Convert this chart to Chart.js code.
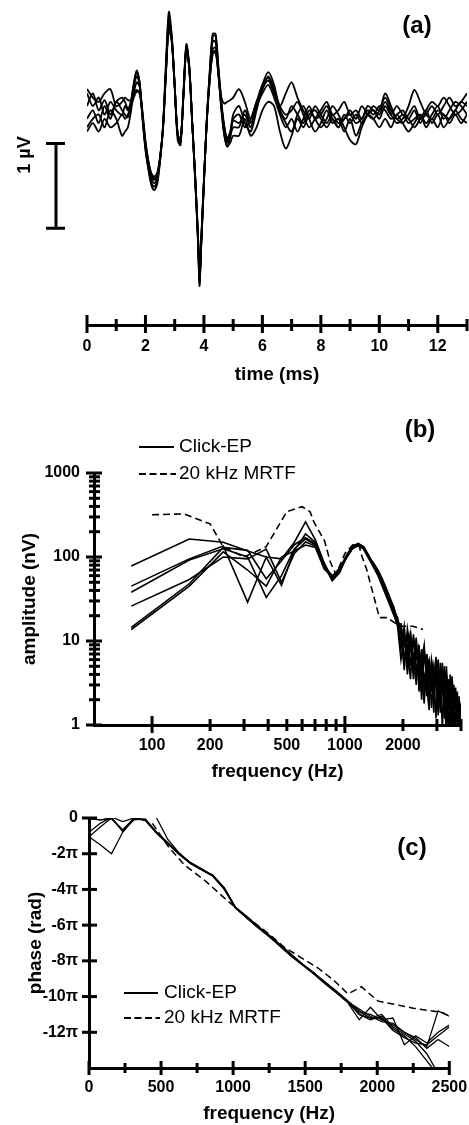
<!DOCTYPE html>
<html><head><meta charset="utf-8">
<script src="https://cdn.jsdelivr.net/npm/chart.js@4.4.0/dist/chart.umd.min.js"></script>
<style>
html,body{margin:0;padding:0;background:#fff;}
body{width:469px;height:1125px;position:relative;overflow:hidden;}
canvas{position:absolute;left:0;}
</style></head><body>
<canvas id="ca" width="469" height="400" style="top:0px"></canvas>
<canvas id="cb" width="469" height="390" style="top:400px"></canvas>
<canvas id="cc" width="469" height="335" style="top:790px"></canvas>
<script>
// ---------- Panel (a): click-evoked potentials, time (ms) vs µV ----------
const timeMs = [0,0.2,0.4,0.6,0.8,1.0,1.2,1.3,1.4,1.5,1.6,1.7,1.8,1.9,2.0,2.1,2.2,2.3,2.4,2.5,2.6,2.7,2.8,2.9,3.0,3.1,3.2,3.3,3.4,3.5,3.6,3.7,3.8,3.85,3.9,4.0,4.1,4.2,4.3,4.4,4.5,4.6,4.7,4.8,4.9,5.0,5.2,5.4,5.6,5.8,6.0,6.2,6.4,6.6,6.8,7.0,7.2,7.4,7.6,7.8,8.0,8.2,8.4,8.6,8.8,9.0,9.2,9.4,9.6,9.8,10.0,10.2,10.4,10.6,10.8,11.0,11.2,11.4,11.6,11.8,12.0,12.2,12.4,12.6,12.8,13.0];
const epTrace1 = [0.2,0.05,0.15,-0.05,0.1,0.0,-0.05, 0.05,0.0,0.1,0.32,0.47,0.33,-0.1,-0.47,-0.7,-0.88,-0.94,-0.87,-0.6,-0.18,0.55,1.16,0.88,0.3,-0.35,-0.41,0.22,0.78,0.52,-0.15,-0.82,-1.58,-2.07,-1.66,-0.86,-0.1,0.47,0.9,0.9,0.45,0.0,-0.3,-0.43,-0.32,-0.12, -0.15,-0.05,-0.2,0.05,0.3,0.45,0.3,0.0,-0.1,0.05,-0.05,-0.15,0.0,-0.1,-0.2,-0.1,0.05,-0.05,-0.2,-0.35,-0.4,-0.2,-0.05,0.05,0.0,0.2,0.05,-0.1,-0.05,-0.15,-0.1,-0.05,-0.15,-0.05,0.05,-0.1,0.0,0.1,0.05,-0.05];
const epTrace2 = [0.05,0.2,0.0,0.12,-0.05,0.1,0.15, 0.1,0.02,0.1,0.3,0.45,0.33,-0.08,-0.45,-0.68,-0.85,-0.9,-0.84,-0.58,-0.2,0.5,1.1,0.86,0.3,-0.3,-0.38,0.2,0.76,0.5,-0.15,-0.8,-1.55,-2.03,-1.64,-0.85,-0.1,0.45,0.87,0.88,0.5,0.1,-0.2,-0.38,-0.28,-0.05, 0.05,-0.15,-0.25,0.0,0.25,0.35,0.2,0.05,0.2,0.33,0.15,0.0,-0.1,0.05,-0.05,-0.15,-0.05,-0.15,-0.1,0.0,-0.1,0.05,-0.05,-0.1,0.0,0.15,0.0,-0.1,-0.15,-0.05,0.05,-0.1,-0.05,0.05,-0.05,0.05,0.15,0.05,0.1,0.2];
const epTrace3 = [-0.1,0.0,-0.15,0.05,-0.1,0.1,0.0, -0.05,-0.08,0.05,0.27,0.4,0.3,-0.1,-0.42,-0.65,-0.8,-0.86,-0.8,-0.58,-0.22,0.45,1.05,0.84,0.28,-0.28,-0.36,0.18,0.74,0.5,-0.15,-0.78,-1.52,-2.0,-1.62,-0.84,-0.1,0.43,0.82,0.8,0.45,0.15,0.08,0.1,0.12,0.15, 0.25,0.1,-0.1,0.1,0.3,0.38,0.25,0.05,-0.05,0.0,0.1,-0.05,-0.2,-0.1,0.0,0.1,-0.05,0.0,0.1,-0.05,0.0,-0.1,0.05,0.0,-0.05,0.1,-0.05,-0.15,-0.1,0.05,0.24,0.1,-0.05,-0.1,0.0,-0.05,-0.1,0.0,0.1,0.05];
const epTrace4 = [-0.2,-0.1,-0.05,-0.2,0.0,-0.1,-0.3, -0.25,-0.2,-0.02,0.2,0.33,0.28,-0.05,-0.4,-0.62,-0.78,-0.82,-0.78,-0.55,-0.2,0.45,1.0,0.82,0.28,-0.28,-0.35,0.18,0.73,0.48,-0.15,-0.78,-1.5,-1.98,-1.6,-0.82,-0.12,0.38,0.72,0.74,0.4,0.0,-0.3,-0.42,-0.38,-0.3, -0.3,-0.1,-0.3,-0.2,0.0,0.1,0.05,-0.25,-0.45,-0.3,-0.1,-0.2,-0.05,0.0,-0.1,-0.2,-0.1,-0.2,-0.05,-0.15,-0.05,-0.15,-0.05,-0.1,-0.2,-0.1,-0.2,-0.05,-0.15,-0.25,-0.15,-0.05,-0.2,-0.1,-0.2,-0.05,-0.15,-0.05,-0.15,-0.05];
const epTrace5 = [0.25,0.15,0.1,0.2,0.25,0.05,0.1, 0.15,0.12,0.12,0.2,0.24,0.2,-0.05,-0.38,-0.6,-0.74,-0.78,-0.74,-0.55,-0.22,0.42,0.95,0.8,0.27,-0.27,-0.35,0.17,0.72,0.48,-0.15,-0.77,-1.5,-1.95,-1.58,-0.82,-0.12,0.36,0.66,0.68,0.4,0.05,-0.22,-0.35,-0.3,-0.2, -0.2,0.0,-0.15,0.05,0.2,0.3,0.15,-0.05,-0.2,-0.1,-0.25,-0.1,0.05,-0.1,-0.05,0.05,-0.1,-0.2,-0.1,-0.05,-0.15,-0.1,0.0,-0.05,0.05,0.0,-0.1,-0.05,0.0,-0.1,0.0,-0.15,0.0,0.1,0.05,0.15,0.05,-0.05,0.0,0.1];
const epTrace6 = [-0.25,-0.15,-0.25,-0.1,-0.2,-0.15,-0.05, -0.1,-0.05,0.05,0.15,0.22,0.2,-0.02,-0.36,-0.6,-0.76,-0.8,-0.76,-0.56,-0.2,0.45,1.0,0.83,0.28,-0.28,-0.36,0.18,0.74,0.5,-0.15,-0.79,-1.53,-2.0,-1.62,-0.84,-0.12,0.36,0.68,0.7,0.42,0.05,-0.2,-0.33,-0.25,-0.1, -0.05,-0.2,-0.1,0.1,0.25,0.4,0.25,0.0,-0.15,-0.25,-0.05,0.05,-0.1,-0.25,-0.15,0.0,-0.15,-0.1,-0.25,-0.1,-0.3,-0.15,-0.05,0.0,-0.1,0.05,-0.05,0.05,-0.05,-0.1,-0.2,-0.1,0.0,-0.15,-0.05,-0.2,-0.1,0.0,-0.1,-0.15];
const timeTickLabels = [0,2,4,6,8,10,12];
const timeMinorTicks = [1,3,5,7,9,11,13];
const scaleBarMicroV = [-0.39, -1.39]; // 1 µV scale bar

// ---------- Panel (b): amplitude spectra ----------
const freqB = [78,156,234,313,391,469,547,625,703,781,859,938,1016,1094,1172,1250,1328,1406,1484,1563,1641,1719,1797,1875,1953,2031,2109,2188,2266,2344,2422,2500,2578,2656,2734,2813,2891,2969,3047,3125,3203,3281,3359,3438,3516,3594,3672,3750,3828,3906,3984];
const ampTrace1 = [78,164,150,118,100,95,150,262,160,85, 55,68,100,132,143,130,102,82,66,50,38,30,24,18, 14,6,12,5,11,4,9,3,7,5,6,2.5,5,3,6,2,4,1.5,5,2,3.5,1.2,3,1.5,2.5,1,1.8];
const ampTrace2 = [45,95,135,29,100,46,120,188,150,80, 52,65,98,128,140,128,100,85,70,55,42,32,25,17, 8,15,5,13,4.5,10,3.5,8,2.5,7,2,5.5,3.5,6.5,1.8,4.5,2.5,5,1.2,3.5,2,3.8,1.5,2.8,1.2,2.2,1.3];
const ampTrace3 = [38,92,125,100,33,60,125,164,140,75, 57,72,104,135,145,133,105,80,62,46,35,28,22,16, 16,9,7,12,3.5,9,6,2,7.5,4,5,1.6,4,4.5,1.3,5.5,3,1.2,4,2.5,0.8,3.5,2,1,2,1.5,0.9];
const ampTrace4 = [26,54,100,95,124,50,110,151,135,78, 60,70,96,125,138,126,98,78,64,52,40,31,23,19, 12,4.5,14,8,5,11,2.5,6,9,3,1.5,6,4,1.2,5,3.5,0.9,4.5,3,1.5,3,0.9,2.5,2,1.2,1.8,1.1];
const ampTrace5 = [14.5,48,130,120,55,90,140,170,145,82, 54,66,102,130,142,132,104,84,68,48,36,27,21,15, 6,11,9,3.5,12,6,7,4,1.8,7,3.5,4.5,1.4,5.5,3,2.5,5.5,2,0.8,3.5,1.5,2.5,0.9,2.2,1.6,0.8,1.5];
const ampTrace6 = [13.7,45,115,70,45,100,118,139,130,72, 58,74,100,127,136,124,96,76,60,45,34,26,20,16, 10,13,4,9,7,3,8,5,4,2.2,6,3.5,2.5,5,3.5,1.4,4,3,2,0.9,4,1.8,1.2,2.5,0.9,1.4,1.2];
const mrtfFreqB = [100,146,200,234,300,390,500,600,660,690,785,840,900,1000,1100,1180,1224,1295,1510,1650,1930,2250,2540];
const mrtfAmpB  = [318,326,248,132,100,132,346,397,346,262,155,87,62,110,140,140,103,72,19,19,15,15,13.7];
const freqTickLabelsB = [100,200,500,1000,2000];
const ampTickLabels = [1,10,100,1000];

// ---------- Panel (c): phase spectra (in units of π rad) ----------
const freqC = [0,78,156,234,313,391,469,547,625,703,781,859,938,1016,1094,1172,1250,1328,1406,1484,1563,1641,1719,1797,1875,1953,2031,2109,2188,2266,2344,2422,2500];
const phaseTrace1 = [0,-0.1,0,-0.75,0,-0.1,-0.8,-1.4,-2.0,-2.5,-2.85,-3.2,-3.95,-5.05,-5.55,-6.1,-6.6,-7.15,-7.7,-8.2,-8.7,-9.25,-9.75,-10.3,-10.9,-11.0,-11.3,-11.6,-12.0,-12.4,-12.8,-10.8,-11.1];
const phaseTrace2 = [-1.05,-1.5,-2.0,-0.8,-0.05,-0.1,-0.85,-1.45,-2.05,-2.55,-2.9,-3.25,-4.0,-5.0,-5.6,-6.15,-6.65,-7.2,-7.75,-8.25,-8.75,-9.3,-9.8,-10.35,-11.3,-10.6,-11.3,-11.2,-12.7,-12.2,-12.6,-12.0,-11.6];
const phaseTrace3 = [-1.05,-0.5,0.0,-0.7,-0.1,-0.05,-0.8,-1.4,-2.0,-2.5,-2.9,-3.2,-3.9,-5.0,-5.5,-6.05,-6.55,-7.1,-7.65,-8.2,-8.7,-9.2,-9.7,-10.25,-10.8,-11.2,-11.0,-11.7,-12.1,-12.5,-13.2,-14.3,-15];
const phaseTrace4 = [-0.05,-0.1,-0.05,-0.65,0,-0.15,-0.85,-1.45,-2.0,-2.55,-2.9,-3.25,-3.95,-5.05,-5.6,-6.1,-6.6,-7.2,-7.75,-8.25,-8.75,-9.3,-9.8,-10.3,-11.0,-11.3,-11.1,-11.8,-12.2,-12.8,-13.6,-14.4,-15];
const phaseTrace5 = [-0.8,-0.3,0.05,-0.2,0.0,-0.1,-0.8,-1.4,-2.0,-2.5,-2.85,-3.25,-3.9,-5.0,-5.55,-6.1,-6.6,-7.15,-7.7,-8.2,-8.7,-9.25,-9.75,-10.3,-10.7,-11.1,-11.4,-11.5,-12.0,-12.3,-12.9,-12.4,-12.8];
const phaseTrace6 = [null,null,null,null,null,null,0,-1.2,-1.95,-2.5,-2.9,-3.25,-3.95,-5.0,-5.55,-6.1,-6.6,-7.15,-7.7,-8.2,-8.7,-9.25,-9.75,-10.3,-11.0,-11.2,-11.2,-11.9,-12.3,-12.6,-12.7,-12.2,-11.7];
const mrtfFreqC  = [440,550,665,804,942,1081,1250,1358,1589,1700,1797,1890,2005,2250,2455,2502];
const mrtfPhaseC = [-0.3,-1.6,-2.65,-3.5,-4.5,-5.45,-6.5,-7.25,-8.4,-9.1,-9.85,-9.45,-10.25,-10.65,-10.9,-11.1];
const freqTickLabelsC = [0,500,1000,1500,2000,2500];
const freqMinorTicksC = [250,750,1250,1750,2250];
const phaseTickLabels = [0,-2,-4,-6,-8,-10,-12];

// ---------- common ----------
const FONT = "'Liberation Sans', Arial, Helvetica, sans-serif";
Chart.defaults.font.family = FONT;
Chart.defaults.color = '#000';
const BLACK = '#000';

function xy(xs, ys){ return xs.map((x,i)=>({x:x, y:ys[i]})); }
function lineDs(xs, ys, opts){ return Object.assign({data: xy(xs, ys), borderColor: BLACK, borderWidth: 1.5, pointRadius: 0, fill: false, tension: 0, spanGaps: false}, opts||{}); }
function setTicks(list){ return s => { s.ticks = list.map(v=>({value:v})); }; }
function fixW(w){ return s => { s.width = w; s.paddingLeft=0; s.paddingRight=0; s.paddingTop=0; s.paddingBottom=0; }; }
function fixH(h){ return s => { s.height = h; s.paddingLeft=0; s.paddingRight=0; s.paddingTop=0; s.paddingBottom=0; }; }
function ticksX(chart, list, up, down){
  const ctx = chart.ctx, s = chart.scales.x, y = chart.chartArea.bottom;
  ctx.save(); ctx.strokeStyle = BLACK; ctx.lineWidth = 3;
  list.forEach(v => { const x = s.getPixelForValue(v); ctx.beginPath(); ctx.moveTo(x, y-up); ctx.lineTo(x, y+down); ctx.stroke(); });
  ctx.restore();
}
function ticksY(chart, list, left, right){
  const ctx = chart.ctx, s = chart.scales.y, x = chart.chartArea.left;
  ctx.save(); ctx.strokeStyle = BLACK; ctx.lineWidth = 3;
  list.forEach(v => { const y = s.getPixelForValue(v); ctx.beginPath(); ctx.moveTo(x-left, y); ctx.lineTo(x+right, y); ctx.stroke(); });
  ctx.restore();
}
function text(ctx, str, x, y, size, weight, align){
  ctx.save(); ctx.fillStyle = BLACK; ctx.font = (weight||'normal') + ' ' + size + 'px ' + FONT;
  ctx.textAlign = align || 'left'; ctx.textBaseline = 'middle'; ctx.fillText(str, x, y); ctx.restore();
}
function legend(ctx, x0, x1, y1, y2, tx){
  ctx.save(); ctx.strokeStyle = BLACK; ctx.lineWidth = 2;
  ctx.beginPath(); ctx.moveTo(x0, y1); ctx.lineTo(x1, y1); ctx.stroke();
  ctx.setLineDash([7,3.5]); ctx.beginPath(); ctx.moveTo(x0, y2); ctx.lineTo(x1+2, y2); ctx.stroke();
  ctx.restore();
  text(ctx, 'Click-EP', tx, y1, 19, 'normal');
  text(ctx, '20 kHz MRTF', tx, y2, 19, 'normal');
}
const tickFont = {size: 16, weight: 'bold'};
const titleFont = {size: 19, weight: 'bold'};
const baseOpts = {responsive: false, animation: false, devicePixelRatio: 1, events: [],
  plugins: {legend: {display: false}, tooltip: {enabled: false}}};

// ---------- chart (a) ----------
new Chart(document.getElementById('ca'), {
  type: 'line',
  data: {datasets: [epTrace1, epTrace2, epTrace3, epTrace4, epTrace5, epTrace6].map(t => lineDs(timeMs, t, {borderWidth: 1.8, tension: 0.3}))},
  options: Object.assign({}, baseOpts, {
    layout: {padding: {left: 87, right: 2, top: 0, bottom: 0}},
    scales: {
      x: {type: 'linear', min: 0, max: 13, afterBuildTicks: setTicks(timeTickLabels), afterFit: fixH(75),
          grid: {display: false, drawTicks: false}, border: {display: true, width: 3, color: BLACK},
          ticks: {padding: 12, font: tickFont, color: BLACK, maxRotation: 0, autoSkip: false},
          title: {display: true, text: 'time (ms)', font: titleFont, color: BLACK, padding: {top: 0, bottom: 14}}},
      y: {display: false, min: -2.53, max: 1.3}
    }
  }),
  plugins: [{id: 'decoA', afterDraw(chart){
    const ctx = chart.ctx;
    ticksX(chart, timeTickLabels, 10, 8);
    ticksX(chart, timeMinorTicks, 6, 6);
    const ys = chart.scales.y, bx = chart.chartArea.left - 31;
    const y1 = ys.getPixelForValue(scaleBarMicroV[0]), y2 = ys.getPixelForValue(scaleBarMicroV[1]);
    ctx.save(); ctx.strokeStyle = BLACK; ctx.lineWidth = 3;
    ctx.beginPath(); ctx.moveTo(bx, y1); ctx.lineTo(bx, y2);
    ctx.moveTo(bx-10, y1); ctx.lineTo(bx+9, y1); ctx.moveTo(bx-10, y2); ctx.lineTo(bx+9, y2); ctx.stroke();
    ctx.translate(25, 155); ctx.rotate(-Math.PI/2);
    text(ctx, '1 µV', 0, 0, 18, 'bold', 'center');
    ctx.restore();
    text(ctx, '(a)', 417, 26, 24, 'bold', 'center');
  }}]
});

// ---------- chart (b) ----------
new Chart(document.getElementById('cb'), {
  type: 'line',
  data: {datasets: [ampTrace1, ampTrace2, ampTrace3, ampTrace4, ampTrace5, ampTrace6].map(t => lineDs(freqB, t, {borderWidth: 1.6}))
      .concat([lineDs(mrtfFreqB, mrtfAmpB, {borderWidth: 1.6, borderDash: [7,4]})])},
  options: Object.assign({}, baseOpts, {
    layout: {padding: {left: 0, right: 8, top: 73, bottom: 0}},
    scales: {
      x: {type: 'logarithmic', min: 50, max: 4000, afterBuildTicks: setTicks(freqTickLabelsB), afterFit: fixH(65),
          grid: {display: false, drawTicks: false}, border: {display: true, width: 3, color: BLACK},
          ticks: {padding: 11, font: tickFont, color: BLACK, maxRotation: 0, autoSkip: false, callback: v => String(v)},
          title: {display: true, text: 'frequency (Hz)', font: titleFont, color: BLACK, padding: {top: 0, bottom: 7}}},
      y: {type: 'logarithmic', min: 1, max: 1000, afterBuildTicks: setTicks(ampTickLabels), afterFit: fixW(94),
          grid: {display: false, drawTicks: false}, border: {display: true, width: 3, color: BLACK},
          ticks: {padding: 14, font: tickFont, color: BLACK, autoSkip: false, callback: v => String(v)},
          title: {display: true, text: 'amplitude (nV)', font: titleFont, color: BLACK, padding: {top: 18, bottom: 0}}}
    }
  }),
  plugins: [{id: 'decoB', afterDraw(chart){
    const ctx = chart.ctx;
    ticksX(chart, [100, 1000], 9, 8);
    ticksX(chart, [200,300,400,500,600,700,800,900,2000,3000,4000], 6, 6);
    ticksY(chart, ampTickLabels, 8, 8);
    ticksY(chart, [2,3,4,5,6,7,8,9,20,30,40,50,60,70,80,90,200,300,400,500,600,700,800,900], 5, 6);
    legend(ctx, 139, 174, 47, 74, 179);
    text(ctx, '(b)', 420, 30, 24, 'bold', 'center');
  }}]
});

// ---------- chart (c) ----------
new Chart(document.getElementById('cc'), {
  type: 'line',
  data: {datasets: [phaseTrace1, phaseTrace2, phaseTrace3, phaseTrace4, phaseTrace5, phaseTrace6].map(t => lineDs(freqC, t, {borderWidth: 1.3}))
      .concat([lineDs(mrtfFreqC, mrtfPhaseC, {borderWidth: 1.5, borderDash: [7,4]})])},
  options: Object.assign({}, baseOpts, {
    layout: {padding: {left: 0, right: 19.7, top: 28, bottom: 0}},
    scales: {
      x: {type: 'linear', min: 0, max: 2500, afterBuildTicks: setTicks(freqTickLabelsC), afterFit: fixH(57),
          grid: {display: false, drawTicks: false}, border: {display: true, width: 3, color: BLACK},
          ticks: {padding: 10, font: tickFont, color: BLACK, maxRotation: 0, autoSkip: false, callback: v => String(v)},
          title: {display: true, text: 'frequency (Hz)', font: titleFont, color: BLACK, padding: {top: 0, bottom: 0}}},
      y: {type: 'linear', min: -14, max: 0, afterBuildTicks: setTicks(phaseTickLabels), afterFit: fixW(89),
          grid: {display: false, drawTicks: false}, border: {display: true, width: 3, color: BLACK},
          ticks: {padding: 11, font: tickFont, color: BLACK, autoSkip: false, callback: v => (v === 0 ? '0' : v + 'π')},
          title: {display: true, text: 'phase (rad)', font: titleFont, color: BLACK, padding: {top: 24, bottom: 0}}}
    }
  }),
  plugins: [{id: 'decoC', afterDraw(chart){
    const ctx = chart.ctx;
    ticksX(chart, freqTickLabelsC, 7, 7);
    ticksX(chart, freqMinorTicksC, 5, 5);
    ticksY(chart, phaseTickLabels, 7, 8);
    legend(ctx, 124, 158, 203, 228, 164);
    text(ctx, '(c)', 412, 58, 24, 'bold', 'center');
  }}]
});
</script>
</body></html>
